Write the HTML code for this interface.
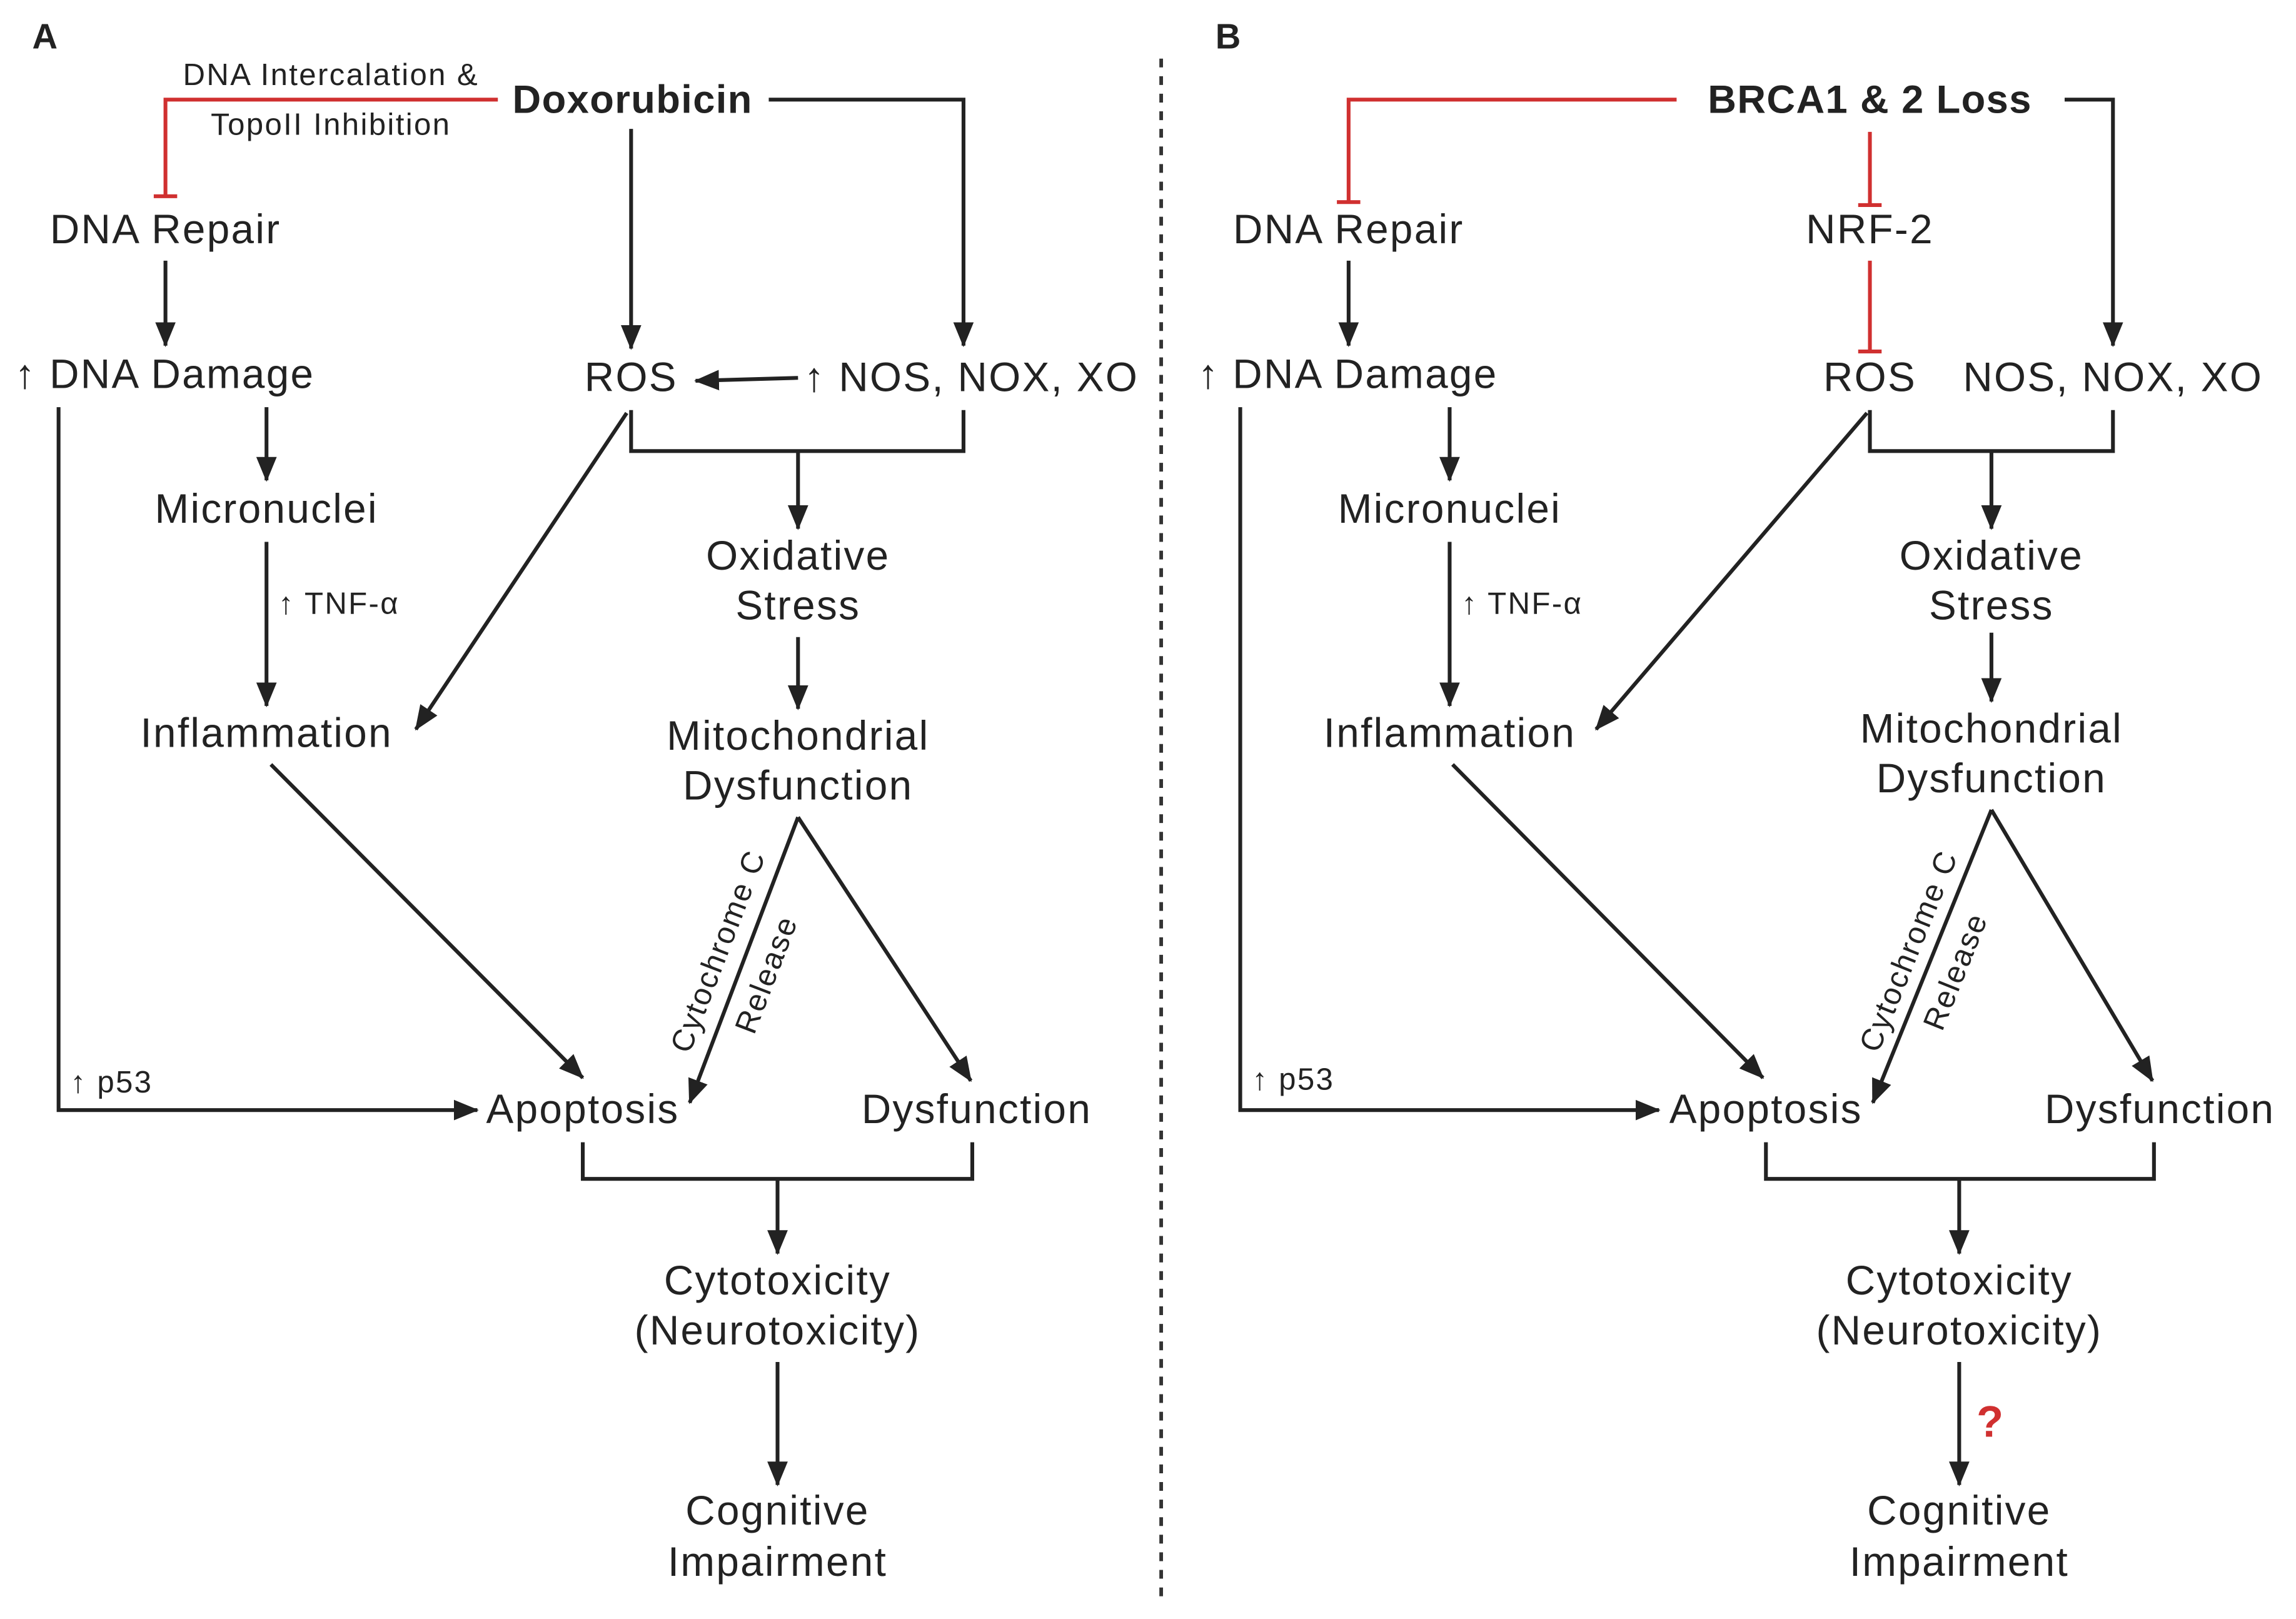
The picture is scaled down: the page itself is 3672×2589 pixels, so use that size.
<!DOCTYPE html>
<html><head><meta charset="utf-8"><style>
html,body{margin:0;padding:0;background:#fff;}
svg{display:block;}
text{font-family:"Liberation Sans",sans-serif;fill:#222;}
</style></head><body>
<svg width="3672" height="2589" viewBox="0 0 1568 1105.5" xmlns="http://www.w3.org/2000/svg">
<defs>
<marker id="ar" markerUnits="userSpaceOnUse" markerWidth="18" markerHeight="18" viewBox="0 0 18 18" refX="16" refY="9" orient="auto">
<path d="M0,2 L17,9 L0,16 Z" fill="#222"/>
</marker>
</defs>
<rect width="1568" height="1105.5" fill="#fff"/>
<g stroke="#222" stroke-width="2.6" fill="none">
<line x1="113" y1="178" x2="113" y2="236" marker-end="url(#ar)"/>
<line x1="431" y1="88" x2="431" y2="238" marker-end="url(#ar)"/>
<polyline points="525,68 658,68 658,236" marker-end="url(#ar)"/>
<line x1="545" y1="258" x2="475" y2="260" marker-end="url(#ar)"/>
<polyline points="431,280 431,308 658,308 658,280"/>
<line x1="545" y1="308" x2="545" y2="361" marker-end="url(#ar)"/>
<line x1="545" y1="435" x2="545" y2="484" marker-end="url(#ar)"/>
<line x1="182" y1="278" x2="182" y2="328" marker-end="url(#ar)"/>
<line x1="182" y1="370" x2="182" y2="482" marker-end="url(#ar)"/>
<line x1="428" y1="282" x2="284" y2="498" marker-end="url(#ar)"/>
<line x1="185" y1="522" x2="398" y2="736" marker-end="url(#ar)"/>
<polyline points="40,278 40,758 326,758" marker-end="url(#ar)"/>
<line x1="545" y1="558" x2="663" y2="738" marker-end="url(#ar)"/>
<line x1="545" y1="558" x2="471" y2="753" marker-end="url(#ar)"/>
<polyline points="398,780 398,805 664,805 664,780"/>
<line x1="531" y1="805" x2="531" y2="856" marker-end="url(#ar)"/>
<line x1="531" y1="930" x2="531" y2="1014" marker-end="url(#ar)"/>
<line x1="921" y1="178" x2="921" y2="236" marker-end="url(#ar)"/>
<polyline points="1410,68 1443,68 1443,236" marker-end="url(#ar)"/>
<polyline points="1277,280 1277,308 1443,308 1443,280"/>
<line x1="1360" y1="308" x2="1360" y2="361" marker-end="url(#ar)"/>
<line x1="1360" y1="432" x2="1360" y2="479" marker-end="url(#ar)"/>
<line x1="990" y1="278" x2="990" y2="328" marker-end="url(#ar)"/>
<line x1="990" y1="370" x2="990" y2="482" marker-end="url(#ar)"/>
<line x1="1275" y1="282" x2="1090" y2="498" marker-end="url(#ar)"/>
<line x1="992" y1="522" x2="1204" y2="736" marker-end="url(#ar)"/>
<polyline points="847,278 847,758 1133,758" marker-end="url(#ar)"/>
<line x1="1360" y1="553" x2="1470" y2="738" marker-end="url(#ar)"/>
<line x1="1360" y1="553" x2="1279" y2="753" marker-end="url(#ar)"/>
<polyline points="1206,780 1206,805 1471,805 1471,780"/>
<line x1="1338" y1="805" x2="1338" y2="856" marker-end="url(#ar)"/>
<line x1="1338" y1="930" x2="1338" y2="1014" marker-end="url(#ar)"/>
</g>
<g stroke="#d03030" stroke-width="2.6" fill="none">
<polyline points="340,68 113,68 113,134"/>
<line x1="105" y1="134" x2="121" y2="134"/>
<polyline points="1145,68 921,68 921,138"/>
<line x1="913" y1="138" x2="929" y2="138"/>
<line x1="1277" y1="90" x2="1277" y2="140"/>
<line x1="1269" y1="140" x2="1285" y2="140"/>
<line x1="1277" y1="178" x2="1277" y2="240"/>
<line x1="1269" y1="240" x2="1285" y2="240"/>
</g>
<line x1="793" y1="40" x2="793" y2="1092" stroke="#333" stroke-width="2.5" stroke-dasharray="6,6"/>
<g font-size="28" letter-spacing="1">
<text x="22" y="33" font-weight="bold" font-size="24" letter-spacing="0">A</text>
<text x="830" y="33" font-weight="bold" font-size="24" letter-spacing="0">B</text>
<text x="226" y="58" font-size="21" letter-spacing="1" text-anchor="middle">DNA Intercalation &amp;</text>
<text x="226" y="92" font-size="21" letter-spacing="1" text-anchor="middle">TopoII Inhibition</text>
<text x="432" y="77" font-weight="bold" font-size="27" letter-spacing="0.6" text-anchor="middle">Doxorubicin</text>
<text x="113" y="166" text-anchor="middle">DNA Repair</text>
<text x="10" y="265">↑ DNA Damage</text>
<text x="431" y="267" text-anchor="middle">ROS</text>
<text x="549" y="267">↑ NOS, NOX, XO</text>
<text x="182" y="357" text-anchor="middle">Micronuclei</text>
<text x="190" y="419" font-size="21" letter-spacing="1">↑ TNF-α</text>
<text x="182" y="510" text-anchor="middle">Inflammation</text>
<text x="545" y="389" text-anchor="middle">Oxidative</text>
<text x="545" y="423" text-anchor="middle">Stress</text>
<text x="545" y="512" text-anchor="middle">Mitochondrial</text>
<text x="545" y="546" text-anchor="middle">Dysfunction</text>
<text x="48" y="746" font-size="21" letter-spacing="1">↑ p53</text>
<text x="398" y="767" text-anchor="middle">Apoptosis</text>
<text x="667" y="767" text-anchor="middle">Dysfunction</text>
<text x="531" y="884" text-anchor="middle">Cytotoxicity</text>
<text x="531" y="918" text-anchor="middle">(Neurotoxicity)</text>
<text x="531" y="1041" text-anchor="middle">Cognitive</text>
<text x="531" y="1076" text-anchor="middle">Impairment</text>
<text transform="translate(497,652) rotate(-69)" font-size="21" letter-spacing="1" text-anchor="middle">Cytochrome C</text>
<text transform="translate(530,668) rotate(-69)" font-size="21" letter-spacing="1" text-anchor="middle">Release</text>

<text x="1277" y="77" font-weight="bold" font-size="27" letter-spacing="0.6" text-anchor="middle">BRCA1 &amp; 2 Loss</text>
<text x="921" y="166" text-anchor="middle">DNA Repair</text>
<text x="1277" y="166" text-anchor="middle">NRF-2</text>
<text x="818" y="265">↑ DNA Damage</text>
<text x="1277" y="267" text-anchor="middle">ROS</text>
<text x="1443" y="267" text-anchor="middle">NOS, NOX, XO</text>
<text x="990" y="357" text-anchor="middle">Micronuclei</text>
<text x="998" y="419" font-size="21" letter-spacing="1">↑ TNF-α</text>
<text x="990" y="510" text-anchor="middle">Inflammation</text>
<text x="1360" y="389" text-anchor="middle">Oxidative</text>
<text x="1360" y="423" text-anchor="middle">Stress</text>
<text x="1360" y="507" text-anchor="middle">Mitochondrial</text>
<text x="1360" y="541" text-anchor="middle">Dysfunction</text>
<text x="855" y="744" font-size="21" letter-spacing="1">↑ p53</text>
<text x="1206" y="767" text-anchor="middle">Apoptosis</text>
<text x="1475" y="767" text-anchor="middle">Dysfunction</text>
<text x="1338" y="884" text-anchor="middle">Cytotoxicity</text>
<text x="1338" y="918" text-anchor="middle">(Neurotoxicity)</text>
<text x="1338" y="1041" text-anchor="middle">Cognitive</text>
<text x="1338" y="1076" text-anchor="middle">Impairment</text>
<text x="1359" y="981" font-weight="bold" font-size="30" letter-spacing="0" style="fill:#d03030" text-anchor="middle">?</text>
<text transform="translate(1310,652) rotate(-68)" font-size="21" letter-spacing="1" text-anchor="middle">Cytochrome C</text>
<text transform="translate(1342,666) rotate(-68)" font-size="21" letter-spacing="1" text-anchor="middle">Release</text>
</g>
</svg>
</body></html>
